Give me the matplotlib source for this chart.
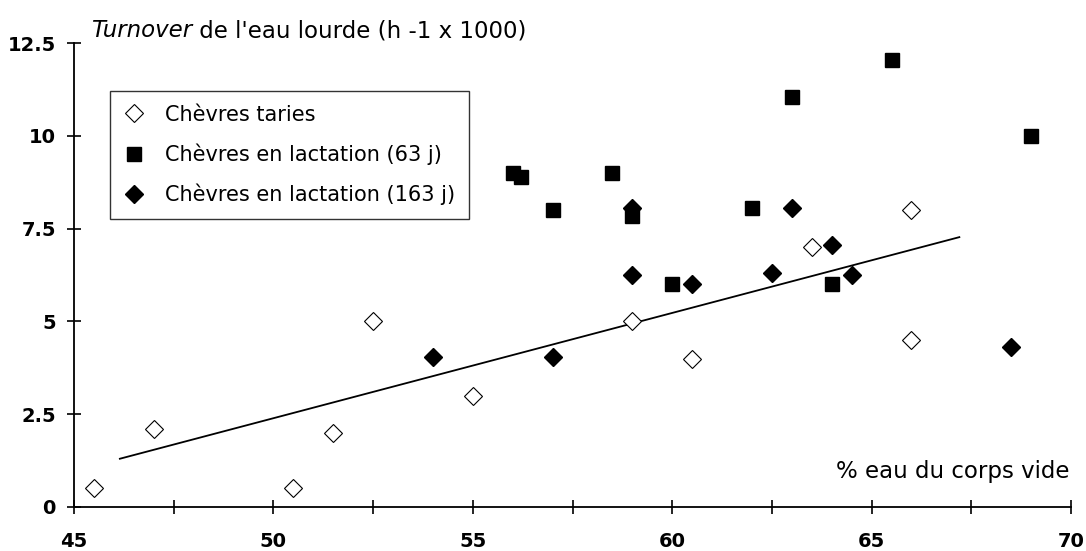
import matplotlib.pyplot as plt
from matplotlib.ticker import MultipleLocator

plt.rcParams['font.family'] = ['DejaVu Sans']

# Chèvres taries (open diamonds)
taries_x = [45.5, 47.0, 50.5, 51.5, 52.5, 55.0, 59.0, 60.5, 63.5, 66.0, 66.0]
taries_y = [0.5, 2.1, 0.5, 2.0, 5.0, 3.0, 5.0, 4.0, 7.0, 8.0, 4.5]

# Chèvres en lactation (63 j) (squares)
lact63_x = [56.0, 56.2, 57.0, 58.5, 59.0, 60.0, 62.0, 63.0, 64.0, 65.5, 69.0]
lact63_y = [9.0, 8.9, 8.0, 9.0, 7.85, 6.0, 8.05, 11.05, 6.0, 12.05, 10.0]

# Chèvres en lactation (163 j) (filled diamonds)
lact163_x = [54.0, 57.0, 59.0, 59.0, 60.5, 62.5, 63.0, 64.0, 64.5, 68.5]
lact163_y = [4.05, 4.05, 6.25, 8.05, 6.0, 6.3, 8.05, 7.05, 6.25, 4.3]

# regression line end points
reg_x = [46.15, 67.2]
reg_y = [1.3, 7.27]

labels = ['Chèvres taries', 'Chèvres en lactation (63 j)', 'Chèvres en lactation (163 j)']

fig = plt.figure(figsize=(10.86, 5.51), dpi=100)
ax = fig.add_axes([74 / 1086, 1 - 507 / 551, 997 / 1086, 464 / 551])

ax.plot(reg_x, reg_y, color='black', lw=1.3, zorder=2)
ax.plot(taries_x, taries_y, 'D', ms=9.5, mfc='white', mec='black', mew=0.8,
        ls='none', label=labels[0], zorder=3)
ax.plot(lact63_x, lact63_y, 's', ms=10, color='black', ls='none', label=labels[1], zorder=3)
ax.plot(lact163_x, lact163_y, 'D', ms=9.5, color='black', ls='none', label=labels[2], zorder=4)

ax.set_xlim(45, 70)
ax.set_ylim(0, 12.5)
ax.xaxis.set_major_locator(MultipleLocator(5))
ax.xaxis.set_minor_locator(MultipleLocator(2.5))
ax.set_yticks([0, 2.5, 5, 7.5, 10, 12.5])
ax.set_yticklabels(['0', '2.5', '5', '7.5', '10', '12.5'])

ax.spines['top'].set_visible(False)
ax.spines['right'].set_visible(False)
ax.spines['left'].set_linewidth(1.3)
ax.spines['bottom'].set_linewidth(1.3)
ax.tick_params(axis='both', which='both', direction='inout', length=10, width=1.2)
ax.tick_params(axis='x', which='major', pad=13)
ax.tick_params(axis='y', pad=8)
for lab in ax.get_xticklabels() + ax.get_yticklabels():
    lab.set_fontweight('bold')
    lab.set_fontsize(14)

# y axis title: "Turnover" in italics
t1 = ax.text(0.017, 1.012, 'Turnover', transform=ax.transAxes, fontsize=16.5, style='italic',
             ha='left', va='baseline')
ax.annotate(" de l'eau lourde (h -1 x 1000)", xy=(1, 0), xycoords=t1,
            fontsize=16.5, ha='left', va='bottom')
ax.text(0.998, 0.0625, '% eau du corps vide', transform=ax.transAxes, fontsize=16.5,
        ha='right', va='baseline')

leg = ax.legend(loc='upper left', bbox_to_anchor=((110 - 74) / 997, (507 - 91) / 464),
                borderaxespad=0, fontsize=15, frameon=True, fancybox=False,
                edgecolor='black', handlelength=1.0, handletextpad=1.0,
                labelspacing=0.9, borderpad=0.65)
leg.get_frame().set_linewidth(1.0)

fig.savefig('out.png', dpi=100)
